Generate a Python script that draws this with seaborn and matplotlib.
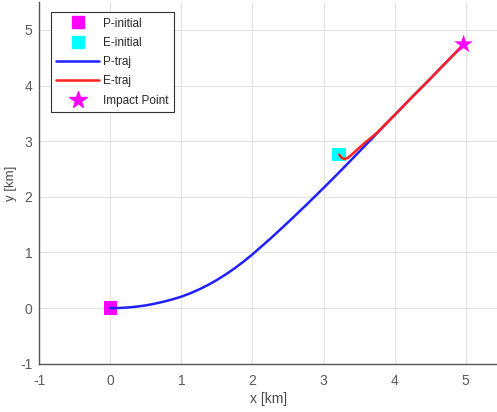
import matplotlib
matplotlib.use("Agg")
import matplotlib.pyplot as plt
import seaborn as sns
import pandas as pd
from matplotlib.lines import Line2D

# Начальные точки и точка встречи (км)
p_init = (0.0, 0.0)
e_init = (3.22, 2.76)
impact = (4.97, 4.74)

# Траектория преследователя
p_x = [0.0, 0.125, 0.25, 0.375, 0.5, 0.625, 0.75, 0.875, 1.0, 1.125, 1.25,
       1.375, 1.5, 1.625, 1.75, 1.875, 2.0, 2.25, 2.5, 2.75,
       3.0, 3.25, 3.5, 3.75, 4.0, 4.25, 4.5, 4.75, 4.97]
p_y = [0.0, 0.003, 0.012, 0.028, 0.050, 0.080, 0.116, 0.158, 0.207, 0.267, 0.337,
       0.417, 0.507, 0.607, 0.717, 0.837, 0.967, 1.247, 1.542, 1.847,
       2.16, 2.48, 2.81, 3.14, 3.47, 3.80, 4.12, 4.45, 4.74]

# Траектория цели
e_x = [3.22, 3.24, 3.27, 3.30, 3.34, 3.38, 3.44, 3.50, 3.60, 3.75, 4.0, 4.25, 4.5, 4.75, 4.97]
e_y = [2.76, 2.72, 2.69, 2.68, 2.70, 2.74, 2.81, 2.88, 2.99, 3.15, 3.47, 3.80, 4.12, 4.45, 4.74]

p_df = pd.DataFrame({"x": p_x, "y": p_y})
e_df = pd.DataFrame({"x": e_x, "y": e_y})

sns.set_style("whitegrid")
plt.rcParams["font.family"] = ["Liberation Sans", "DejaVu Sans"]
plt.rcParams["axes.unicode_minus"] = False

fig = plt.figure(figsize=(4.97, 4.12), dpi=100)
ax = fig.add_axes([0.079, 0.117, 0.921, 0.878])

# Маркеры начальных точек
sns.scatterplot(x=[p_init[0]], y=[p_init[1]], marker="s", s=95, color="#ff00ff",
                edgecolor="none", ax=ax, zorder=3)
sns.scatterplot(x=[e_init[0]], y=[e_init[1]], marker="s", s=95, color="#00ffff",
                edgecolor="none", ax=ax, zorder=3)

# Траектории
sns.lineplot(data=p_df, x="x", y="y", sort=False, estimator=None,
             color="#2020ff", linewidth=1.8, ax=ax, zorder=4)
sns.lineplot(data=e_df, x="x", y="y", sort=False, estimator=None,
             color="#ff2020", linewidth=1.8, ax=ax, zorder=5)

# Точка встречи
sns.scatterplot(x=[impact[0]], y=[impact[1]], marker="*", s=200, color="#ff00ff",
                edgecolor="none", ax=ax, zorder=6)

ax.set_xlim(-1, 5.44)
ax.set_ylim(-1, 5.5)
ax.set_xticks(range(-1, 6))
ax.set_yticks(range(-1, 6))

ax.grid(True, color="#e3e3e3", linewidth=0.8)
ax.set_facecolor("white")
for side in ["top", "right"]:
    ax.spines[side].set_visible(False)
for side in ["left", "bottom"]:
    ax.spines[side].set_visible(True)
    ax.spines[side].set_color("#555555")
    ax.spines[side].set_linewidth(1.0)

ax.tick_params(axis="both", direction="in", length=3, width=0.8, color="#555555",
               labelcolor="#5a5a5a", labelsize=10)
ax.tick_params(axis="x", pad=7)
ax.tick_params(axis="y", pad=5)
ax.set_xlabel("x [km]", fontsize=10, color="#4a4a4a", labelpad=3)
ax.set_ylabel("y [km]", fontsize=9.5, color="#4a4a4a", labelpad=2)

handles = [
    Line2D([], [], linestyle="none", marker="s", markersize=9, color="#ff00ff"),
    Line2D([], [], linestyle="none", marker="s", markersize=9, color="#00ffff"),
    Line2D([], [], color="#2020ff", linewidth=1.8),
    Line2D([], [], color="#ff2020", linewidth=1.8),
    Line2D([], [], linestyle="none", marker="*", markersize=13, color="#ff00ff"),
]
labels = ["P-initial", "E-initial", "P-traj", "E-traj", "Impact Point"]
leg = ax.legend(handles, labels, loc="upper left", bbox_to_anchor=(0.026, 0.972),
                fontsize=8.5, frameon=True, fancybox=False, handlelength=3.6,
                handletextpad=0.35, labelspacing=0.62, borderpad=0.45,
                borderaxespad=0)
leg.get_frame().set_edgecolor("#333333")
leg.get_frame().set_linewidth(0.8)
leg.get_frame().set_alpha(1)

fig.savefig("out.png", dpi=100)
